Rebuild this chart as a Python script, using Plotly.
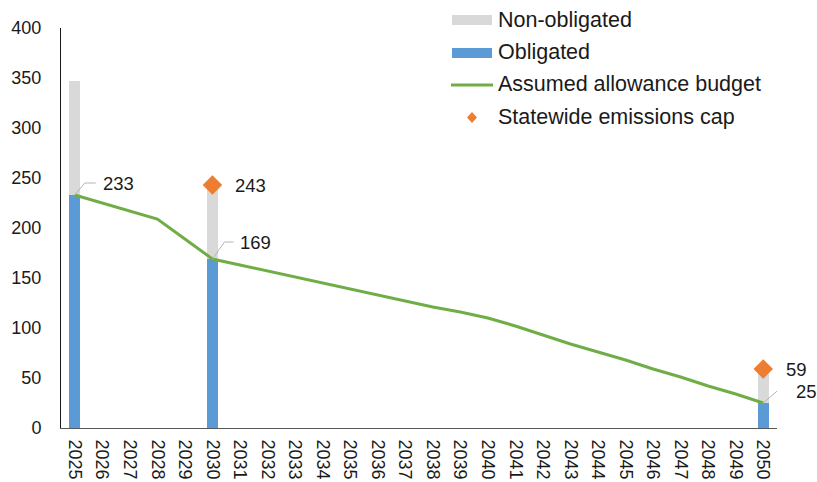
import plotly.graph_objects as go

years = list(range(2025, 2051))
year_labels = [str(y) for y in years]

bar_years = [2025, 2030, 2050]
obligated = [233, 169, 25]
non_obligated = [114, 74, 34]

budget = [233, 225, 217, 209, 189, 169, 163, 157, 151, 145, 139, 133, 127,
          121, 116, 110, 102, 93, 84, 76, 68, 59, 51, 42, 34, 25]

cap_years = [2030, 2050]
cap_values = [243, 59]

FONT = "Liberation Sans, Arial, sans-serif"
TXT = "#1a1a1a"
GREY = "#D9D9D9"
BLUE = "#5B9BD5"
GREEN = "#70AD47"
ORANGE = "#ED7D31"
LEADER = "#B4B4B4"

fig = go.Figure()

fig.add_trace(go.Bar(x=bar_years, y=obligated, name="Obligated",
                     marker=dict(color=BLUE, line=dict(width=0)),
                     width=0.4, hoverinfo="y"))
fig.add_trace(go.Bar(x=bar_years, y=non_obligated, name="Non-obligated",
                     marker=dict(color=GREY, line=dict(width=0)),
                     width=0.4, hoverinfo="y"))
fig.add_trace(go.Scatter(x=years, y=budget, mode="lines",
                         name="Assumed allowance budget",
                         line=dict(color=GREEN, width=3)))
fig.add_trace(go.Scatter(x=cap_years, y=cap_values, mode="markers",
                         name="Statewide emissions cap",
                         marker=dict(symbol="diamond", color=ORANGE, size=15,
                                     line=dict(width=0))))

shapes = []

# value labels with elbow leader lines for the budget points
for yr, val, diag, run in [(2025, budget[0], (10, 12), 21),
                           (2030, budget[5], (12, 17), 21),
                           (2050, budget[-1], (14, 12), 26)]:
    dx, dy = diag
    shapes.append(dict(type="path", xref="x", yref="y",
                       xsizemode="pixel", ysizemode="pixel",
                       xanchor=yr, yanchor=val,
                       path=f"M 0,0 L {dx},{dy} L {run},{dy}",
                       line=dict(color=LEADER, width=1)))
    fig.add_annotation(x=yr, y=val, text=str(val), showarrow=False,
                       xanchor="left", xshift=run + 5, yshift=dy,
                       font=dict(family=FONT, size=18.5, color=TXT))

# labels beside the cap markers
for yr, val, dx in zip(cap_years, cap_values, [38, 33]):
    fig.add_annotation(x=yr, y=val, text=str(val), showarrow=False,
                       xshift=dx, font=dict(family=FONT, size=18.5, color=TXT))

# legend block (top right)
W, H, L, B = 716.0, 400.0, 61.0, 428.0


def px(x):
    return (x - L) / W


def py(y):
    return (B - y) / H


shapes += [
    dict(type="rect", xref="paper", yref="paper", x0=px(452), x1=px(492),
         y0=py(25), y1=py(15), fillcolor=GREY, line=dict(width=0)),
    dict(type="rect", xref="paper", yref="paper", x0=px(452), x1=px(492),
         y0=py(58), y1=py(48), fillcolor=BLUE, line=dict(width=0)),
    dict(type="line", xref="paper", yref="paper", x0=px(451), x1=px(493),
         y0=py(85), y1=py(85), line=dict(color=GREEN, width=3)),
    dict(type="path", xref="paper", yref="paper",
         path=(f"M {px(472)},{py(112)} L {px(477)},{py(117.5)} "
               f"L {px(472)},{py(123)} L {px(467)},{py(117.5)} Z"),
         fillcolor=ORANGE, line=dict(width=0)),
]
legend_rows = [("Non-obligated", 20), ("Obligated", 52),
               ("Assumed allowance budget", 84), ("Statewide emissions cap", 117)]
for label, yy in legend_rows:
    fig.add_annotation(xref="paper", yref="paper", x=px(496), y=py(yy),
                       text=label, showarrow=False, xanchor="left",
                       yanchor="middle",
                       font=dict(family=FONT, size=21.5, color=TXT))

fig.update_layout(
    width=817, height=482,
    margin=dict(l=61, r=40, t=28, b=54),
    paper_bgcolor="white", plot_bgcolor="white",
    barmode="stack",
    showlegend=False,
    shapes=shapes,
    font=dict(family=FONT, size=18, color=TXT),
    xaxis=dict(range=[2024.5, 2050.5], tickmode="array", tickvals=years,
               ticktext=year_labels, tickangle=90, showgrid=False,
               showline=True, linecolor="#595959", linewidth=1, ticks="",
               zeroline=False, ticklabelstandoff=7, automargin=False,
               tickfont=dict(family=FONT, size=18, color=TXT)),
    yaxis=dict(range=[0, 400], dtick=50, showgrid=False, showline=True,
               linecolor="#1a1a1a", linewidth=1, ticks="", zeroline=False,
               ticklabelstandoff=15, automargin=False,
               tickfont=dict(family=FONT, size=18, color=TXT)),
)

fig.write_html("out.html")
